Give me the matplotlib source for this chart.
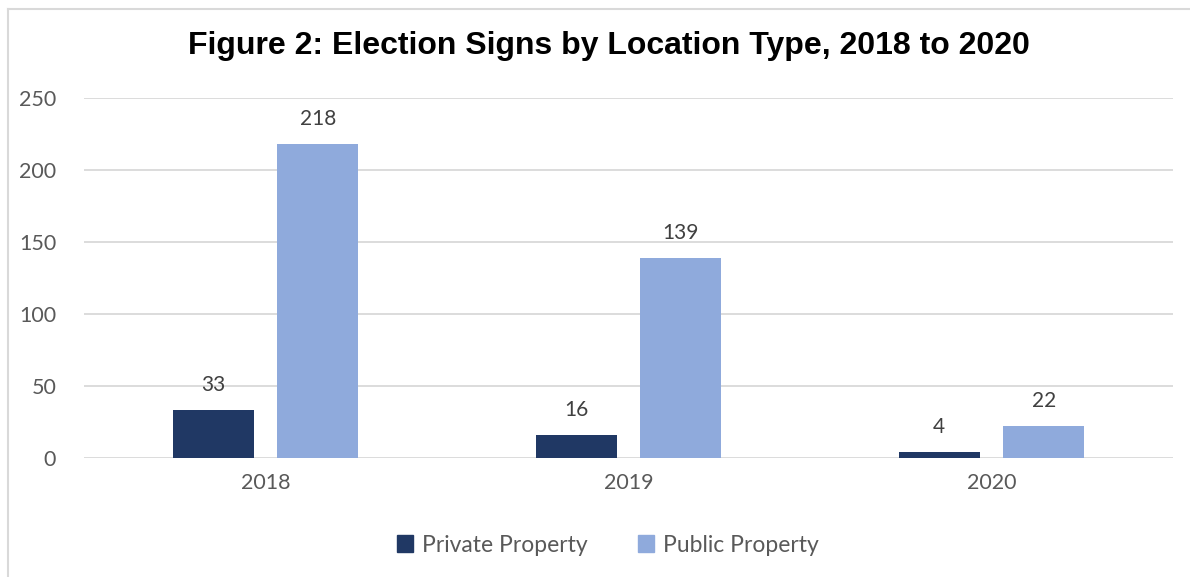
import numpy as np
import matplotlib.pyplot as plt
from matplotlib.lines import Line2D

years = ["2018", "2019", "2020"]
private_signs = [33, 16, 4]
public_signs = [218, 139, 22]

plt.rcParams['font.family'] = ['Lato', 'DejaVu Sans']

fig = plt.figure(figsize=(11.9, 5.77), dpi=100)
ax = fig.add_axes([84 / 1190, 1 - 458 / 577, (1173 - 84) / 1190, 360 / 577])

x = np.arange(len(years))
w = 0.223
b1 = ax.bar(x - 0.144, private_signs, w, color='#203864', zorder=3)
b2 = ax.bar(x + 0.144, public_signs, w, color='#8faadc', zorder=3)

for bars in (b1, b2):
    for rect in bars:
        h = rect.get_height()
        ax.annotate(f"{h:g}", (rect.get_x() + rect.get_width() / 2, h),
                    xytext=(0, 11), textcoords='offset points',
                    ha='center', va='bottom', fontsize=15, color='#404040')

ax.set_xlim(-0.5, 2.5)
ax.set_ylim(0, 250)
ax.set_yticks(range(0, 251, 50))
ax.set_xticks(x)
ax.set_xticklabels(years)
ax.grid(axis='y', color='#d9d9d9', linewidth=1.3, zorder=0)
ax.tick_params(length=0, labelsize=15.5, labelcolor='#595959')
ax.tick_params(axis='y', pad=20)
ax.tick_params(axis='x', pad=11)
for s in ax.spines.values():
    s.set_visible(False)

fig.text(0.512, 1 - 46 / 577, "Figure 2: Election Signs by Location Type, 2018 to 2020",
         ha='center', va='center', fontsize=23, fontweight='bold',
         family='Liberation Sans', color='black')

handles = [plt.Rectangle((0, 0), 1, 1, color='#203864'),
           plt.Rectangle((0, 0), 1, 1, color='#8faadc')]
leg = fig.legend(handles, ["Private Property", "Public Property"],
                 loc='center', bbox_to_anchor=(0.511, 1 - 545 / 577), ncol=2,
                 frameon=False, fontsize=16.5, handlelength=0.7, handleheight=0.7,
                 handletextpad=0.4, columnspacing=2.2)
for t in leg.get_texts():
    t.set_color('#595959')

# outer chart border (left and top edges)
fig.add_artist(Line2D([7.5 / 1190, 7.5 / 1190], [0, 1 - 8.5 / 577],
                      transform=fig.transFigure, color='#d9d9d9', linewidth=1.5))
fig.add_artist(Line2D([7.5 / 1190, 1], [1 - 8.5 / 577, 1 - 8.5 / 577],
                      transform=fig.transFigure, color='#d9d9d9', linewidth=1.5))

fig.savefig("out.png", dpi=100)
